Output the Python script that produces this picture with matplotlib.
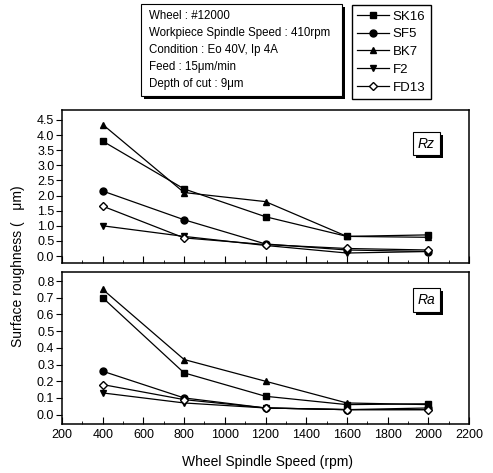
import matplotlib; matplotlib.use("Agg")
import matplotlib.pyplot as plt
from matplotlib.patches import Rectangle
from matplotlib.ticker import MultipleLocator

speed = [400, 800, 1200, 1600, 2000]
names = ["SK16", "SF5", "BK7", "F2", "FD13"]
markers = ["s", "o", "^", "v", "D"]

rz_sk16 = [3.80, 2.22, 1.30, 0.65, 0.70]
rz_sf5 = [2.15, 1.20, 0.40, 0.20, 0.15]
rz_bk7 = [4.35, 2.10, 1.80, 0.65, 0.62]
rz_f2 = [1.00, 0.65, 0.35, 0.10, 0.15]
rz_fd13 = [1.65, 0.60, 0.38, 0.25, 0.20]

ra_sk16 = [0.70, 0.25, 0.11, 0.06, 0.065]
ra_sf5 = [0.26, 0.10, 0.04, 0.03, 0.04]
ra_bk7 = [0.75, 0.33, 0.20, 0.07, 0.06]
ra_f2 = [0.13, 0.07, 0.04, 0.03, 0.03]
ra_fd13 = [0.18, 0.09, 0.04, 0.03, 0.03]

rz = [rz_sk16, rz_sf5, rz_bk7, rz_f2, rz_fd13]
ra = [ra_sk16, ra_sf5, ra_bk7, ra_f2, ra_fd13]

info = ["Wheel : #12000", "Workpiece Spindle Speed : 410rpm",
        "Condition : Eo 40V, Ip 4A", "Feed : 15\u03bcm/min", "Depth of cut : 9\u03bcm"]

plt.rcParams.update({"font.family": ["Liberation Sans", "DejaVu Sans"], "font.size": 9})
W, H = 493, 473
fig = plt.figure(figsize=(W / 100, H / 100), dpi=100)

def fx(px): return px / W
def fy(py): return 1 - py / H

ax1 = fig.add_axes([fx(62), fy(263), fx(469) - fx(62), fy(110) - fy(263)])
ax2 = fig.add_axes([fx(62), fy(424), fx(469) - fx(62), fy(272) - fy(424)])

for ax, data in ((ax1, rz), (ax2, ra)):
    for vals, name, m in zip(data, names, markers):
        face = "white" if m == "D" else "black"
        ax.plot(speed, vals, color="black", lw=0.9, marker=m, ms=5 if m != "D" else 4.5,
                mfc=face, mec="black", mew=1.0, label=name)
    ax.set_xlim(200, 2200)
    ax.xaxis.set_major_locator(MultipleLocator(200))
    ax.xaxis.set_minor_locator(MultipleLocator(100))
    ax.tick_params(axis="x", which="both", direction="in", top=False)
    ax.tick_params(axis="x", which="major", length=5)
    ax.tick_params(axis="x", which="minor", length=2.5)
    ax.tick_params(axis="y", which="major", direction="out", length=4, pad=1.5)
    for s in ax.spines.values():
        s.set_linewidth(1.1)

ax1.set_ylim(-0.23, 4.83)
ax1.yaxis.set_major_locator(MultipleLocator(0.5))
ax1.yaxis.set_major_formatter(plt.FormatStrFormatter("%.1f"))
ax1.tick_params(axis="x", labelbottom=False)
ax2.set_ylim(-0.056, 0.854)
ax2.yaxis.set_major_locator(MultipleLocator(0.1))
ax2.yaxis.set_major_formatter(plt.FormatStrFormatter("%.1f"))

fig.text(fx(18), fy(266), "Surface roughness (   \u03bcm)", rotation=90,
         ha="center", va="center", fontsize=10)
fig.text(fx(268), fy(462), "Wheel Spindle Speed (rpm)", ha="center", va="center", fontsize=10)

def shadow_box(x0, y0, x1, y1, off=3):
    fig.patches.append(Rectangle((fx(x0 + off), fy(y1 + off)), fx(x1) - fx(x0), fy(y0) - fy(y1),
                                 transform=fig.transFigure, fc="black", ec="none", zorder=5))
    fig.patches.append(Rectangle((fx(x0), fy(y1)), fx(x1) - fx(x0), fy(y0) - fy(y1),
                                 transform=fig.transFigure, fc="white", ec="black", lw=0.8, zorder=6))

shadow_box(141, 4, 342, 96)
fig.text(fx(149), fy(50), "\n".join(info), ha="left", va="center", fontsize=8.3,
         linespacing=1.55, zorder=7)

shadow_box(413, 132, 440, 155)
fig.text(fx(426.5), fy(143.5), "Rz", ha="center", va="center", style="italic", fontsize=10, zorder=7)
shadow_box(413, 288, 440, 312)
fig.text(fx(426.5), fy(300), "Ra", ha="center", va="center", style="italic", fontsize=10, zorder=7)

h, l = ax1.get_legend_handles_labels()
fig.legend(h, l, loc="upper left", bbox_to_anchor=(fx(352), fy(5)), frameon=True, fancybox=False,
           edgecolor="black", framealpha=1, fontsize=9.5, handlelength=2.4, labelspacing=0.42,
           handletextpad=0.3, borderpad=0.4, borderaxespad=0)

fig.savefig("out.png", dpi=100)
